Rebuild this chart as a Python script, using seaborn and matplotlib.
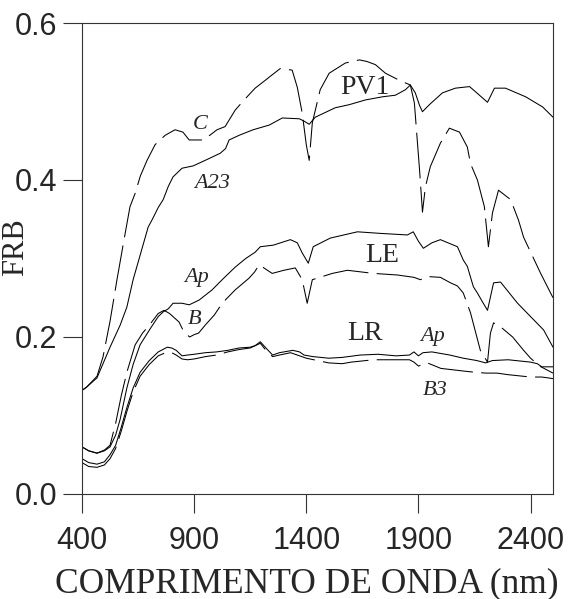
import pandas as pd
import seaborn as sns
import matplotlib.pyplot as plt

# spectral curves (wavelength nm, FRB)
pv1_a23_wl = [400, 420, 467, 525, 570, 600, 628, 660, 695, 712, 740, 762, 785, 806, 846, 896,
              949, 1016, 1040, 1056, 1101, 1163, 1235, 1293, 1369, 1390, 1413, 1440, 1529, 1592,
              1664, 1740, 1797, 1842, 1864, 1886, 1905, 1918, 1949, 2007, 2065, 2128, 2172, 2208,
              2239, 2288, 2378, 2454, 2500]
pv1_a23_r = [0.132, 0.136, 0.148, 0.187, 0.215, 0.238, 0.273, 0.305, 0.340, 0.349, 0.365, 0.375,
             0.392, 0.404, 0.415, 0.418, 0.425, 0.434, 0.440, 0.451, 0.457, 0.464, 0.470, 0.479,
             0.478, 0.475, 0.471, 0.480, 0.492, 0.496, 0.502, 0.506, 0.508, 0.515, 0.521, 0.511,
             0.495, 0.487, 0.496, 0.511, 0.517, 0.519, 0.508, 0.499, 0.517, 0.517, 0.506, 0.493,
             0.480]

pv1_c_wl = [400, 420, 467, 494, 525, 556, 585, 614, 637, 660, 690, 726, 771, 815, 850, 878, 936,
            970, 1002, 1038, 1083, 1123, 1172, 1217, 1257, 1284, 1337, 1360, 1382, 1400, 1413,
            1427, 1462, 1502, 1574, 1637, 1670, 1708, 1753, 1815, 1864, 1882, 1905, 1918, 1931,
            1953, 1998, 2038, 2083, 2118, 2132, 2163, 2194, 2212, 2230, 2257, 2311, 2346, 2369,
            2445, 2500]
pv1_c_r = [0.132, 0.136, 0.150, 0.175, 0.220, 0.273, 0.320, 0.366, 0.383, 0.405, 0.425, 0.445,
           0.457, 0.464, 0.461, 0.451, 0.451, 0.457, 0.464, 0.468, 0.489, 0.502, 0.517, 0.527,
           0.536, 0.542, 0.540, 0.518, 0.485, 0.445, 0.425, 0.473, 0.515, 0.536, 0.549, 0.553,
           0.551, 0.547, 0.536, 0.527, 0.521, 0.498, 0.413, 0.359, 0.391, 0.417, 0.447, 0.466,
           0.461, 0.442, 0.421, 0.400, 0.366, 0.315, 0.358, 0.387, 0.375, 0.349, 0.327, 0.281,
           0.250]

le_ap_wl = [400, 430, 467, 500, 525, 550, 570, 600, 628, 659, 703, 740, 762, 785, 806, 846, 878,
            922, 980, 1025, 1083, 1130, 1172, 1195, 1253, 1329, 1360, 1382, 1409, 1431, 1507,
            1628, 1730, 1851, 1877, 1900, 1922, 1960, 1998, 2074, 2100, 2118, 2145, 2163, 2185,
            2208, 2235, 2266, 2342, 2400, 2458, 2500]
le_ap_r = [0.060, 0.055, 0.052, 0.055, 0.060, 0.075, 0.095, 0.135, 0.165, 0.190, 0.210, 0.226,
           0.232, 0.236, 0.243, 0.243, 0.241, 0.247, 0.260, 0.273, 0.289, 0.300, 0.308, 0.315,
           0.317, 0.324, 0.320, 0.307, 0.294, 0.315, 0.326, 0.334, 0.332, 0.330, 0.334, 0.322,
           0.313, 0.320, 0.324, 0.315, 0.298, 0.290, 0.264, 0.256, 0.245, 0.234, 0.269, 0.270,
           0.243, 0.226, 0.209, 0.187]

le_b_wl = [400, 430, 467, 500, 525, 550, 575, 600, 637, 670, 700, 740, 766, 790, 833, 855, 880,
           900, 920, 949, 990, 1025, 1083, 1145, 1170, 1190, 1248, 1300, 1351, 1382, 1404, 1427,
           1516, 1583, 1700, 1806, 1880, 1909, 1940, 1998, 2043, 2074, 2100, 2132, 2176, 2208,
           2221, 2235, 2266, 2320, 2369, 2400, 2440, 2500]
le_b_r = [0.060, 0.055, 0.052, 0.056, 0.062, 0.090, 0.125, 0.155, 0.190, 0.205, 0.215, 0.230,
          0.234, 0.230, 0.219, 0.206, 0.200, 0.203, 0.205, 0.215, 0.228, 0.243, 0.260, 0.275,
          0.283, 0.292, 0.281, 0.285, 0.288, 0.273, 0.243, 0.273, 0.281, 0.285, 0.281, 0.279,
          0.276, 0.273, 0.277, 0.276, 0.269, 0.265, 0.256, 0.231, 0.183, 0.168, 0.205, 0.218,
          0.213, 0.200, 0.183, 0.173, 0.163, 0.154]

lr_ap_wl = [400, 430, 467, 500, 525, 550, 575, 600, 628, 659, 700, 740, 780, 800, 820, 846, 870,
            900, 950, 1000, 1050, 1100, 1150, 1172, 1195, 1220, 1250, 1280, 1340, 1370, 1390,
            1430, 1500, 1560, 1640, 1720, 1800, 1860, 1880, 1900, 1920, 1960, 2040, 2100, 2160,
            2200, 2230, 2300, 2400, 2430, 2450, 2500]
lr_ap_r = [0.045, 0.040, 0.038, 0.041, 0.050, 0.062, 0.085, 0.110, 0.135, 0.155, 0.170, 0.181,
           0.187, 0.186, 0.183, 0.176, 0.177, 0.178, 0.180, 0.181, 0.183, 0.186, 0.187, 0.189,
           0.194, 0.186, 0.177, 0.180, 0.183, 0.181, 0.177, 0.175, 0.173, 0.174, 0.177, 0.178,
           0.176, 0.177, 0.181, 0.176, 0.180, 0.181, 0.177, 0.173, 0.170, 0.167, 0.170, 0.171,
           0.168, 0.166, 0.162, 0.162]

lr_b3_wl = [400, 430, 467, 500, 525, 550, 575, 600, 628, 659, 700, 740, 780, 800, 820, 846, 870,
            900, 950, 1000, 1050, 1100, 1150, 1195, 1220, 1250, 1280, 1330, 1360, 1400, 1450,
            1500, 1560, 1600, 1700, 1800, 1860, 1880, 1900, 1940, 2000, 2060, 2120, 2200, 2250,
            2300, 2400, 2450, 2500]
lr_b3_r = [0.040, 0.035, 0.034, 0.037, 0.045, 0.058, 0.080, 0.105, 0.130, 0.150, 0.165, 0.176,
           0.181, 0.180, 0.177, 0.172, 0.171, 0.172, 0.175, 0.177, 0.181, 0.184, 0.186, 0.192,
           0.183, 0.175, 0.177, 0.180, 0.177, 0.173, 0.170, 0.167, 0.166, 0.168, 0.171, 0.171,
           0.171, 0.168, 0.163, 0.167, 0.160, 0.158, 0.156, 0.154, 0.154, 0.152, 0.149, 0.149,
           0.147]

x_ticks = [400, 900, 1400, 1900, 2400]
y_ticks = [0.0, 0.2, 0.4, 0.6]

sns.set_style("ticks")
plt.rcParams['font.family'] = ['Liberation Sans', 'DejaVu Sans']

fig = plt.figure(figsize=(5.79, 5.99), dpi=100)
ax = fig.add_axes([0.1416, 0.1753, 0.8135, 0.7863])

dash = (0, (44, 8))
curves = [
    (pv1_a23_wl, pv1_a23_r, '-'),
    (pv1_c_wl, pv1_c_r, dash),
    (le_ap_wl, le_ap_r, '-'),
    (le_b_wl, le_b_r, dash),
    (lr_ap_wl, lr_ap_r, '-'),
    (lr_b3_wl, lr_b3_r, dash),
]
for wl, r, ls in curves:
    df = pd.DataFrame({'wl': wl, 'r': r})
    sns.lineplot(data=df, x='wl', y='r', ax=ax, color='black', linewidth=0.75,
                 linestyle=ls, sort=False, estimator=None)

serif = 'Liberation Serif'
# curve labels
ax.text(927, 0.471, 'C', family=serif, style='italic', fontsize=16, ha='center', va='center')
ax.text(980, 0.396, 'A23', family=serif, style='italic', fontsize=16, ha='center', va='center')
ax.text(1663, 0.518, 'PV1', family=serif, fontsize=20, ha='center', va='center')
ax.text(913, 0.276, 'Ap', family=serif, style='italic', fontsize=16, ha='center', va='center')
ax.text(900, 0.222, 'B', family=serif, style='italic', fontsize=16, ha='center', va='center')
ax.text(1739, 0.304, 'LE', family=serif, fontsize=20, ha='center', va='center')
ax.text(1663, 0.205, 'LR', family=serif, fontsize=20, ha='center', va='center')
ax.text(1962, 0.200, 'Ap', family=serif, style='italic', fontsize=16, ha='center', va='center')
ax.text(1976, 0.132, 'B3', family=serif, style='italic', fontsize=16, ha='center', va='center')

ax.set_xlim(400, 2500)
ax.set_ylim(0, 0.6)
ax.set_xticks(x_ticks)
ax.set_yticks(y_ticks)
ax.set_xticklabels([str(t) for t in x_ticks])
ax.set_yticklabels([f"{t:.1f}" for t in y_ticks])
ax.tick_params(axis='both', direction='out', length=14, width=0.8, labelsize=22, color='#333333')
ax.tick_params(axis='x', pad=9)
ax.tick_params(axis='y', pad=4)
for side in ['top', 'right', 'left', 'bottom']:
    ax.spines[side].set_visible(True)
    ax.spines[side].set_linewidth(0.8)
    ax.spines[side].set_color('#333333')

ax.set_xlabel('COMPRIMENTO DE ONDA (nm)', family=serif, fontsize=25.5)
ax.xaxis.set_label_coords(0.478, -0.155)
ax.set_ylabel('')
fig.text(0.052, 0.588, 'FRB', family=serif, fontsize=22, rotation=90, ha='right', va='center')

plt.savefig('out.png', dpi=100)
